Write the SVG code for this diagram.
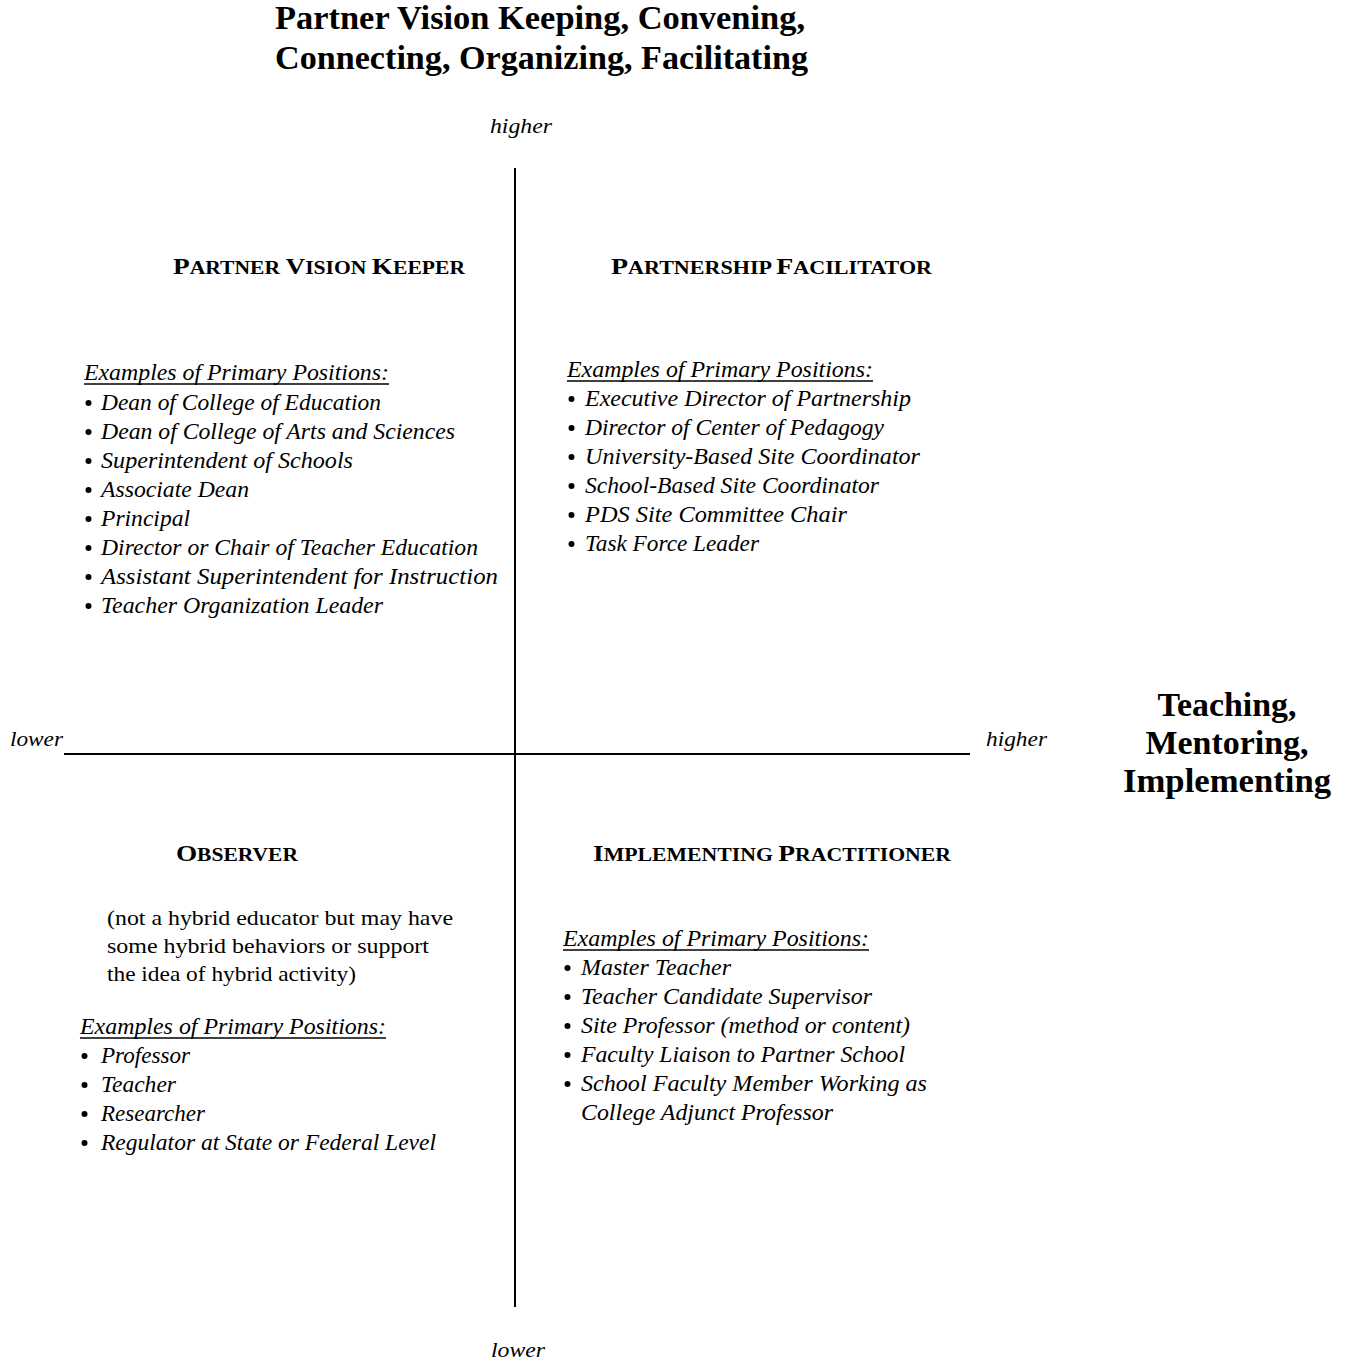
<svg xmlns="http://www.w3.org/2000/svg" width="1347" height="1362" viewBox="0 0 1347 1362">
  <style>
    text { font-family: "Liberation Serif", "Times New Roman", serif; fill: #000; }
    .title { font-size: 33px; font-weight: bold; }
    .axis { font-size: 22px; font-style: italic; }
    .head { font-size: 24px; font-weight: bold; }
    .head .sc { font-size: 19px; }
    .item { font-size: 22.5px; font-style: italic; }
    .note { font-size: 22px; }
    .rule { stroke: #000; stroke-width: 1.6; }
    .axisline { stroke: #000; stroke-width: 2; fill: none; }
    .dot { fill: #000; }
  </style>
  <rect width="1347" height="1362" fill="#fff"/>

  <!-- vertical dimension title -->
  <g id="title-top">
    <text class="title" x="275" y="29" textLength="530" lengthAdjust="spacingAndGlyphs">Partner Vision Keeping, Convening,</text>
    <text class="title" x="275" y="69" textLength="533" lengthAdjust="spacingAndGlyphs">Connecting, Organizing, Facilitating</text>
  </g>

  <!-- horizontal dimension title -->
  <g id="title-right">
    <text class="title" x="1227" y="716" text-anchor="middle" textLength="139" lengthAdjust="spacingAndGlyphs">Teaching,</text>
    <text class="title" x="1227" y="754" text-anchor="middle" textLength="163" lengthAdjust="spacingAndGlyphs">Mentoring,</text>
    <text class="title" x="1227" y="792" text-anchor="middle" textLength="208" lengthAdjust="spacingAndGlyphs">Implementing</text>
  </g>

  <!-- axes -->
  <g id="axes">
    <line class="axisline" x1="515" y1="168" x2="515" y2="1307"/>
    <line class="axisline" x1="64" y1="754" x2="970" y2="754"/>
  </g>

  <g id="axis-labels">
    <text class="axis" x="490" y="133" textLength="62" lengthAdjust="spacingAndGlyphs">higher</text>
    <text class="axis" x="491" y="1357" textLength="54" lengthAdjust="spacingAndGlyphs">lower</text>
    <text class="axis" x="10" y="746" textLength="53" lengthAdjust="spacingAndGlyphs">lower</text>
    <text class="axis" x="986" y="746" textLength="61" lengthAdjust="spacingAndGlyphs">higher</text>
  </g>

  <!-- upper left quadrant -->
  <g id="partner-vision-keeper">
    <text class="head" x="173" y="274" textLength="292" lengthAdjust="spacingAndGlyphs">P<tspan class="sc">ARTNER </tspan>V<tspan class="sc">ISION </tspan>K<tspan class="sc">EEPER</tspan></text>
    <text class="item" x="84" y="380" textLength="305" lengthAdjust="spacingAndGlyphs">Examples of Primary Positions:</text>
    <line class="rule" x1="84" y1="384" x2="389" y2="384"/>
    <g class="dot">
      <circle cx="88.5" cy="403" r="3"/><circle cx="88.5" cy="432" r="3"/><circle cx="88.5" cy="461" r="3"/><circle cx="88.5" cy="490" r="3"/>
      <circle cx="88.5" cy="519" r="3"/><circle cx="88.5" cy="548" r="3"/><circle cx="88.5" cy="577" r="3"/><circle cx="88.5" cy="606" r="3"/>
    </g>
    <text class="item" x="101" y="410" textLength="280" lengthAdjust="spacingAndGlyphs">Dean of College of Education</text>
    <text class="item" x="101" y="439" textLength="354" lengthAdjust="spacingAndGlyphs">Dean of College of Arts and Sciences</text>
    <text class="item" x="101" y="468" textLength="252" lengthAdjust="spacingAndGlyphs">Superintendent of Schools</text>
    <text class="item" x="101" y="497" textLength="148" lengthAdjust="spacingAndGlyphs">Associate Dean</text>
    <text class="item" x="101" y="526" textLength="89" lengthAdjust="spacingAndGlyphs">Principal</text>
    <text class="item" x="101" y="555" textLength="377" lengthAdjust="spacingAndGlyphs">Director or Chair of Teacher Education</text>
    <text class="item" x="101" y="584" textLength="397" lengthAdjust="spacingAndGlyphs">Assistant Superintendent for Instruction</text>
    <text class="item" x="101" y="613" textLength="282" lengthAdjust="spacingAndGlyphs">Teacher Organization Leader</text>
  </g>

  <!-- upper right quadrant -->
  <g id="partnership-facilitator">
    <text class="head" x="611" y="274" textLength="321" lengthAdjust="spacingAndGlyphs">P<tspan class="sc">ARTNERSHIP </tspan>F<tspan class="sc">ACILITATOR</tspan></text>
    <text class="item" x="567" y="377" textLength="306" lengthAdjust="spacingAndGlyphs">Examples of Primary Positions:</text>
    <line class="rule" x1="567" y1="381" x2="873" y2="381"/>
    <g class="dot">
      <circle cx="571.5" cy="399" r="3"/><circle cx="571.5" cy="428" r="3"/><circle cx="571.5" cy="457" r="3"/>
      <circle cx="571.5" cy="486" r="3"/><circle cx="571.5" cy="515" r="3"/><circle cx="571.5" cy="544" r="3"/>
    </g>
    <text class="item" x="585" y="406" textLength="326" lengthAdjust="spacingAndGlyphs">Executive Director of Partnership</text>
    <text class="item" x="585" y="435" textLength="299" lengthAdjust="spacingAndGlyphs">Director of Center of Pedagogy</text>
    <text class="item" x="585" y="464" textLength="335" lengthAdjust="spacingAndGlyphs">University-Based Site Coordinator</text>
    <text class="item" x="585" y="493" textLength="294" lengthAdjust="spacingAndGlyphs">School-Based Site Coordinator</text>
    <text class="item" x="585" y="522" textLength="262" lengthAdjust="spacingAndGlyphs">PDS Site Committee Chair</text>
    <text class="item" x="585" y="551" textLength="174" lengthAdjust="spacingAndGlyphs">Task Force Leader</text>
  </g>

  <!-- lower left quadrant -->
  <g id="observer">
    <text class="head" x="176" y="861" textLength="122" lengthAdjust="spacingAndGlyphs">O<tspan class="sc">BSERVER</tspan></text>
    <text class="note" x="107" y="925" textLength="346" lengthAdjust="spacingAndGlyphs">(not a hybrid educator but may have</text>
    <text class="note" x="107" y="953" textLength="322" lengthAdjust="spacingAndGlyphs">some hybrid behaviors or support</text>
    <text class="note" x="107" y="981" textLength="249" lengthAdjust="spacingAndGlyphs">the idea of hybrid activity)</text>
    <text class="item" x="80" y="1034" textLength="306" lengthAdjust="spacingAndGlyphs">Examples of Primary Positions:</text>
    <line class="rule" x1="80" y1="1038" x2="386" y2="1038"/>
    <g class="dot">
      <circle cx="84.5" cy="1056" r="3"/><circle cx="84.5" cy="1085" r="3"/><circle cx="84.5" cy="1114" r="3"/><circle cx="84.5" cy="1143" r="3"/>
    </g>
    <text class="item" x="101" y="1063" textLength="89" lengthAdjust="spacingAndGlyphs">Professor</text>
    <text class="item" x="101" y="1092" textLength="75" lengthAdjust="spacingAndGlyphs">Teacher</text>
    <text class="item" x="101" y="1121" textLength="104" lengthAdjust="spacingAndGlyphs">Researcher</text>
    <text class="item" x="101" y="1150" textLength="335" lengthAdjust="spacingAndGlyphs">Regulator at State or Federal Level</text>
  </g>

  <!-- lower right quadrant -->
  <g id="implementing-practitioner">
    <text class="head" x="593" y="861" textLength="358" lengthAdjust="spacingAndGlyphs">I<tspan class="sc">MPLEMENTING </tspan>P<tspan class="sc">RACTITIONER</tspan></text>
    <text class="item" x="563" y="946" textLength="306" lengthAdjust="spacingAndGlyphs">Examples of Primary Positions:</text>
    <line class="rule" x1="563" y1="950" x2="869" y2="950"/>
    <g class="dot">
      <circle cx="567.5" cy="968" r="3"/><circle cx="567.5" cy="997" r="3"/><circle cx="567.5" cy="1026" r="3"/>
      <circle cx="567.5" cy="1055" r="3"/><circle cx="567.5" cy="1084" r="3"/>
    </g>
    <text class="item" x="581" y="975" textLength="150" lengthAdjust="spacingAndGlyphs">Master Teacher</text>
    <text class="item" x="581" y="1004" textLength="291" lengthAdjust="spacingAndGlyphs">Teacher Candidate Supervisor</text>
    <text class="item" x="581" y="1033" textLength="329" lengthAdjust="spacingAndGlyphs">Site Professor (method or content)</text>
    <text class="item" x="581" y="1062" textLength="324" lengthAdjust="spacingAndGlyphs">Faculty Liaison to Partner School</text>
    <text class="item" x="581" y="1091" textLength="346" lengthAdjust="spacingAndGlyphs">School Faculty Member Working as</text>
    <text class="item" x="581" y="1120" textLength="252" lengthAdjust="spacingAndGlyphs">College Adjunct Professor</text>
  </g>
</svg>
